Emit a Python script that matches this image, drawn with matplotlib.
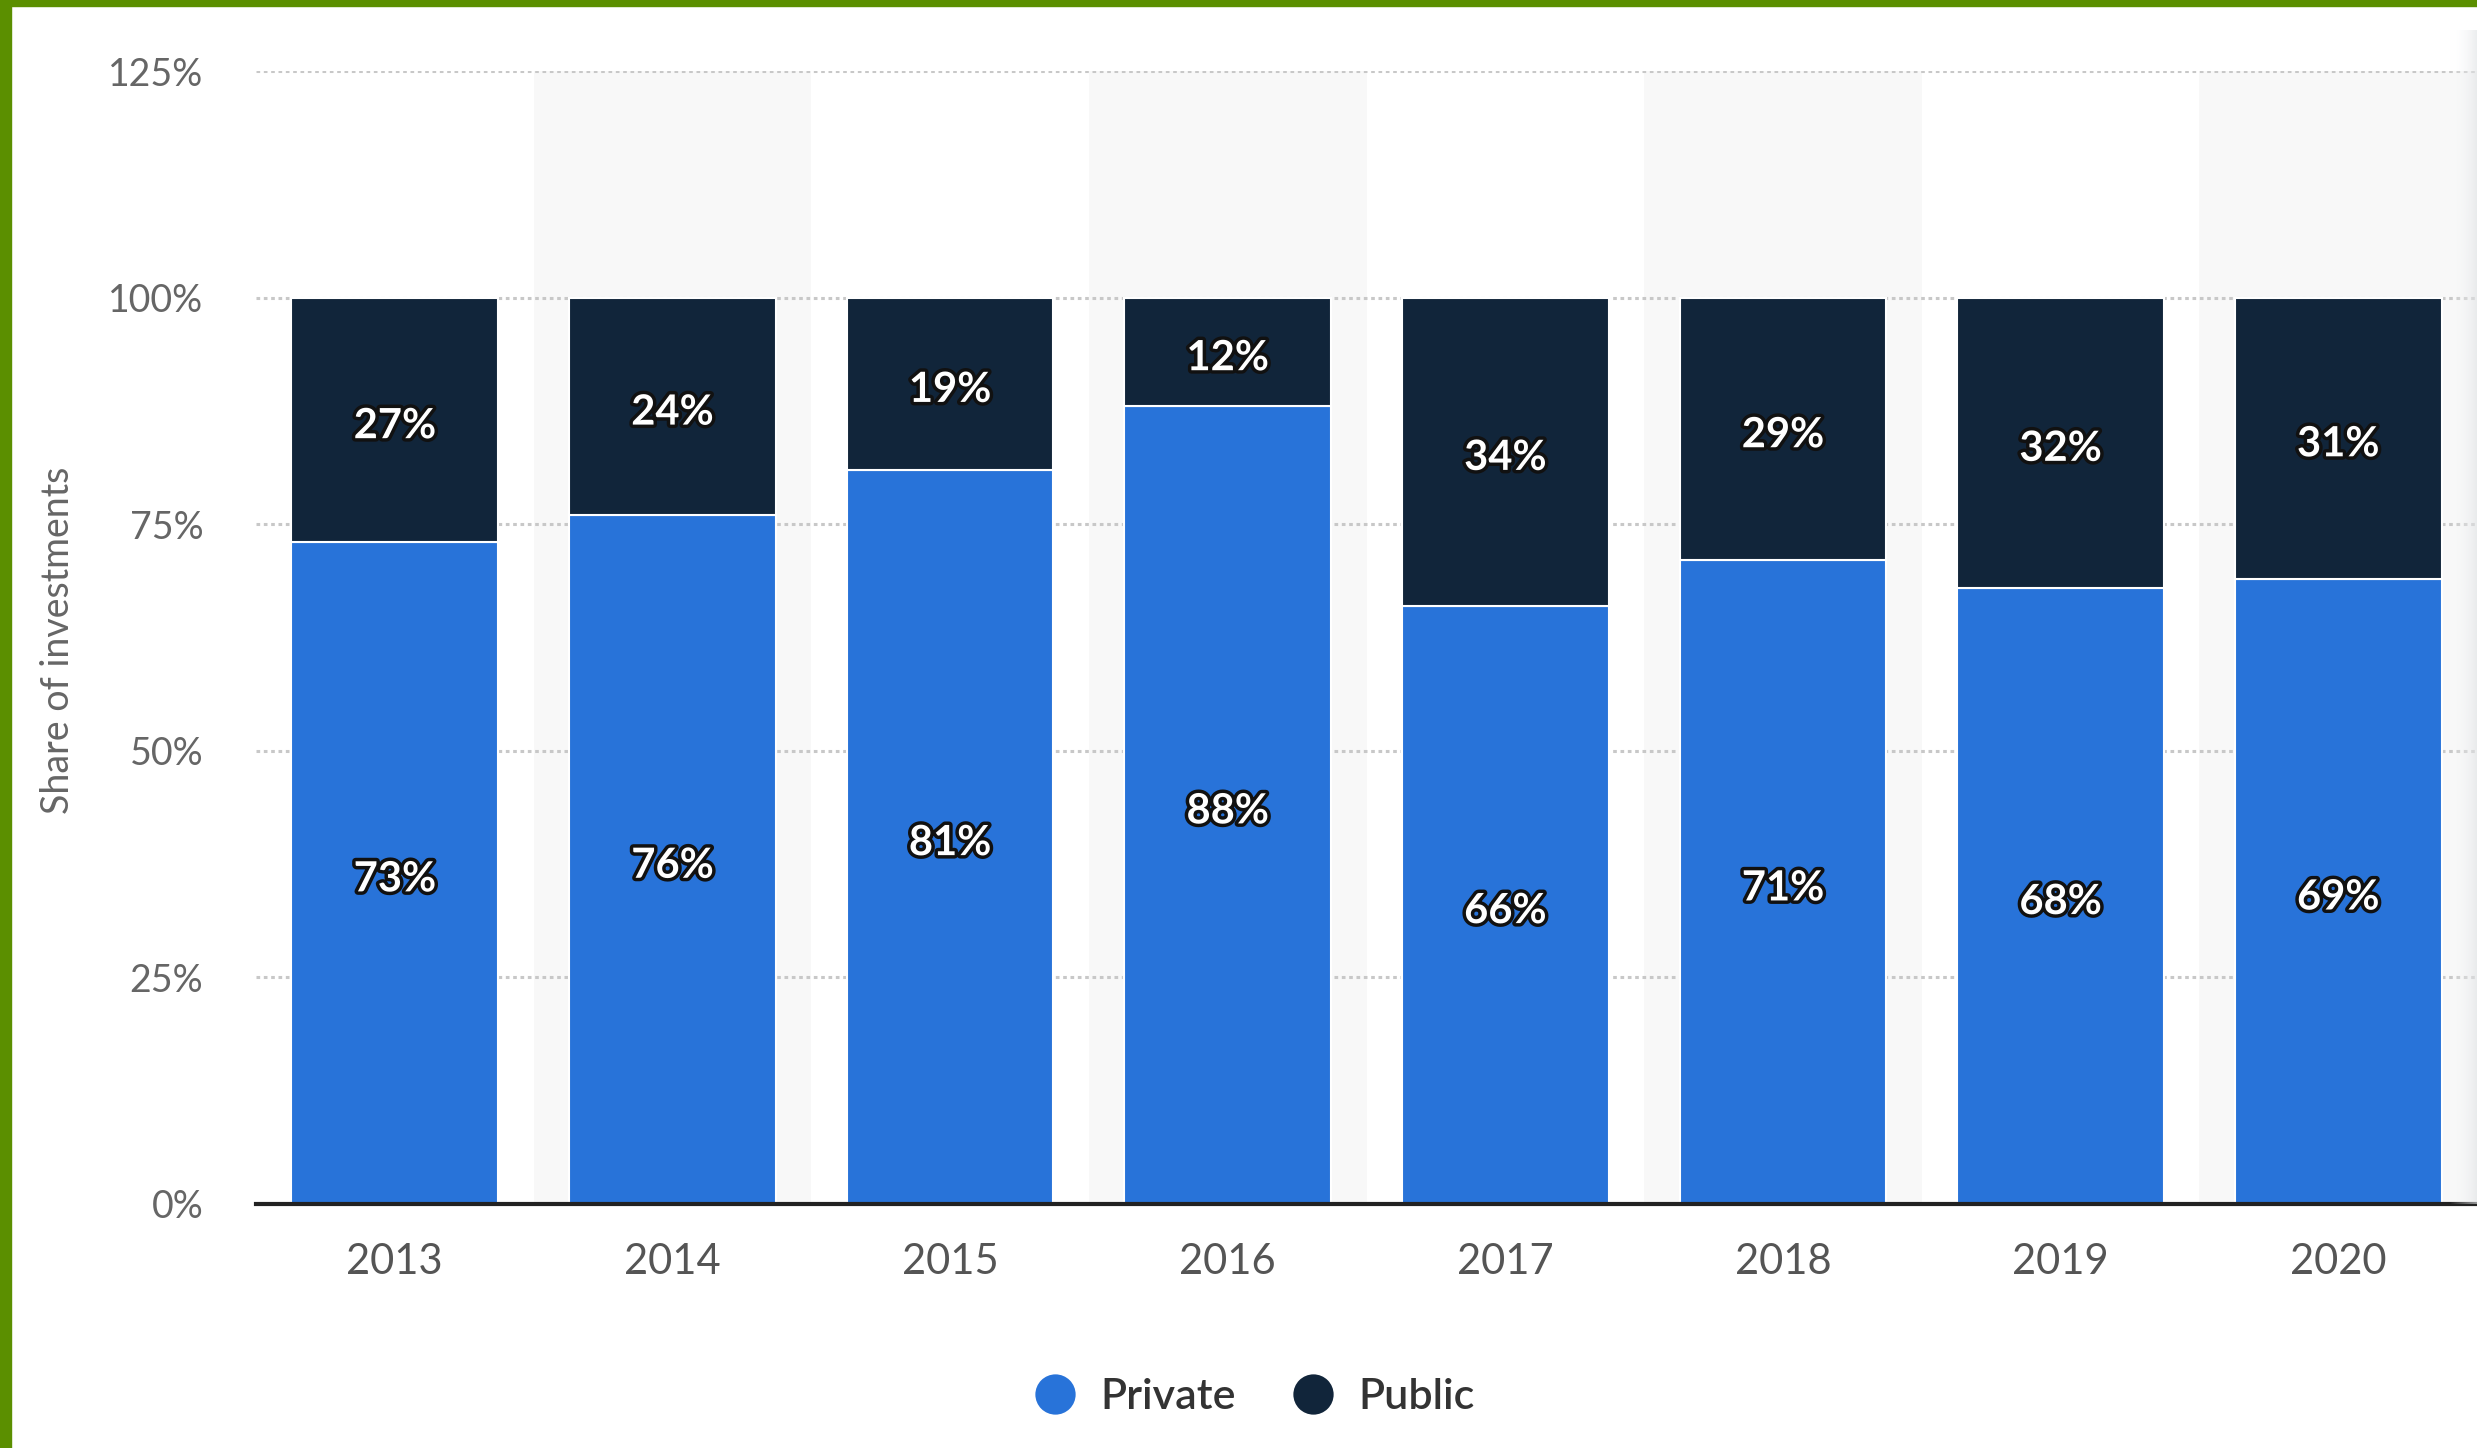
import matplotlib
matplotlib.use("Agg")
import matplotlib.pyplot as plt
import matplotlib.patheffects as pe
from matplotlib.lines import Line2D
from matplotlib.patches import Rectangle
import numpy as np

years = ["2013", "2014", "2015", "2016", "2017", "2018", "2019", "2020"]
private = [73, 76, 81, 88, 66, 71, 68, 69]
public = [27, 24, 19, 12, 34, 29, 32, 31]
yticks = [0, 25, 50, 75, 100, 125]
ytick_labels = ["0%", "25%", "50%", "75%", "100%", "125%"]

c_private = "#2873d9"
c_public = "#11253a"
green = "#5b8f00"

W, H = 2477, 1448
fig = plt.figure(figsize=(W / 100, H / 100), dpi=100)
fig.patch.set_facecolor("white")

left, right, bottom, top = 256 / W, 1.0, 1 - 1204 / H, 1 - 71 / H
ax = fig.add_axes([left, bottom, right - left, top - bottom])
ax.set_facecolor("white")

x = np.arange(len(years))
ax.set_xlim(-0.5, len(years) - 0.5)
ax.set_ylim(0, 125)

# alternating bands
for i in x:
    if i % 2 == 1:
        ax.axvspan(i - 0.5, i + 0.5, color="#f8f8f8", zorder=0, lw=0)

# gridlines
for yv in yticks[1:]:
    ax.axhline(yv, color="#c8c8c8", lw=2.2, linestyle=(0, (1.2, 1.2)), zorder=1)

bw = 0.745
ax.bar(x, private, width=bw, color=c_private, edgecolor="white", linewidth=1.5, zorder=2)
ax.bar(x, public, width=bw, bottom=private, color=c_public, edgecolor="white", linewidth=1.5, zorder=2)

lab_font = ["Lato", "DejaVu Sans"]
stroke = [pe.withStroke(linewidth=5, foreground="#111111")]
for xi, p, q in zip(x, private, public):
    ax.text(xi, p / 2 - 0.3, f"{p}%", ha="center", va="center_baseline", color="white",
            fontsize=30, fontweight="bold", family=lab_font, path_effects=stroke, zorder=4)
    ax.text(xi, p + q / 2 - 0.3, f"{q}%", ha="center", va="center_baseline", color="white",
            fontsize=30, fontweight="bold", family=lab_font, path_effects=stroke, zorder=4)

for s in ["top", "right", "left"]:
    ax.spines[s].set_visible(False)
ax.spines["bottom"].set_color("#222222")
ax.spines["bottom"].set_linewidth(3)
ax.spines["bottom"].set_zorder(5)

ax.set_xticks(x)
ax.set_xticklabels(years, family=["Lato", "DejaVu Sans"], fontsize=30, color="#555555")
ax.set_yticks(yticks)
ax.set_yticklabels(ytick_labels, family=["Lato", "DejaVu Sans"], fontsize=27, color="#666666")
ax.tick_params(axis="x", length=0, pad=28)
ax.tick_params(axis="y", length=0, pad=38)

fig.text(58 / W, 1 - 640 / H, "Share of investments", rotation=90, ha="center", va="center",
         fontsize=27, color="#666666", family=["Lato", "DejaVu Sans"])

handles = [Line2D([], [], marker="o", linestyle="", markersize=29, color=c_private, markeredgewidth=0),
           Line2D([], [], marker="o", linestyle="", markersize=29, color=c_public, markeredgewidth=0)]
leg = fig.legend(handles, ["Private", "Public"], loc="center", bbox_to_anchor=(1252 / W, 1 - 1397 / H),
                 ncol=2, frameon=False, handletextpad=0.45, columnspacing=1.2, handlelength=1.2,
                 prop={"family": ["Lato", "DejaVu Sans"], "size": 31, "weight": "semibold"})
for t in leg.get_texts():
    t.set_color("#333333")

# faint shadow at the right edge
grad = np.linspace(0, 1, 64).reshape(1, -1)
sh = fig.add_axes([2450 / W, 1 - 1204 / H, 27 / W, (1204 - 30) / H])
sh.imshow(grad, aspect="auto", cmap=matplotlib.colors.LinearSegmentedColormap.from_list(
    "sh", [(1, 1, 1, 0), (0.88, 0.89, 0.9, 0.6)]), extent=[0, 1, 0, 1])
sh.set_axis_off()

# green frame (top and left)
fig.patches.append(Rectangle((0, 1 - 6 / H), 1, 6 / H, transform=fig.transFigure,
                             color=green, zorder=10))
fig.patches.append(Rectangle((0, 0), 11 / W, 1, transform=fig.transFigure,
                             color=green, zorder=10))

fig.savefig("out.png", dpi=100, facecolor="white")
